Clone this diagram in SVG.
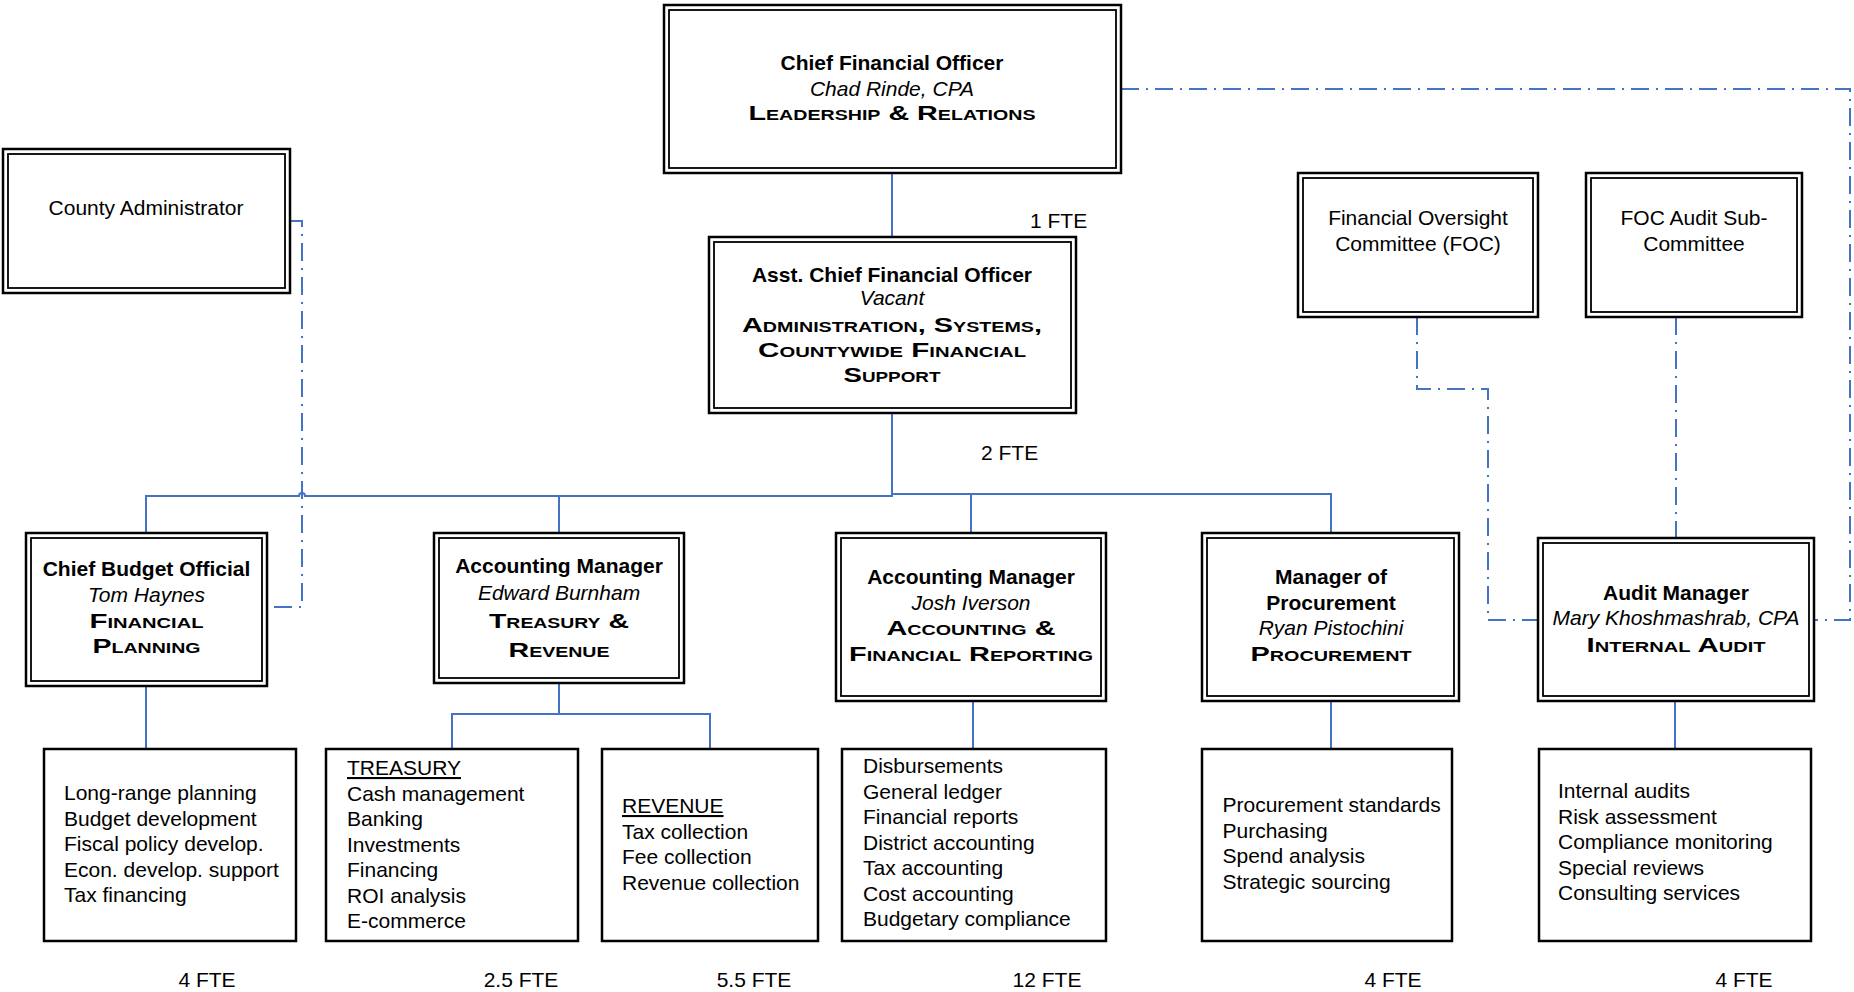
<svg xmlns="http://www.w3.org/2000/svg" width="1854" height="992" viewBox="0 0 1854 992">
<style>
.bx{fill:#fff;stroke:#000;stroke-width:2.5}
.in{fill:none;stroke:#000;stroke-width:1.8}
.t{font-family:"Liberation Sans",Arial,sans-serif;font-size:21px;fill:#000}
.c{text-anchor:middle}
.b{font-weight:bold}
.i{font-style:italic}
.sc{font-weight:bold;font-variant:small-caps;font-size:20.5px}
.u{text-decoration:underline}
.cn{fill:none;stroke:#4472C4;stroke-width:2}
.dd{fill:none;stroke:#4472C4;stroke-width:2;stroke-dasharray:18 7 2 7}
</style>
<rect width="1854" height="992" fill="#fff"/>
<g id="connectors">
<path class="cn" d="M892,173 V237"/>
<path class="cn" d="M892,413 V496 H305 A3,3 0 0 0 299,496 H146 V533"/>
<path class="cn" d="M892,494 H1331 V533"/>
<path class="cn" d="M559,496 V533"/>
<path class="cn" d="M971,494 V533"/>
<path class="cn" d="M146,686 V749"/>
<path class="cn" d="M559,683 V714 M452,749 V714 H710 V749"/>
<path class="cn" d="M973,701 V749"/>
<path class="cn" d="M1331,701 V749"/>
<path class="cn" d="M1675,701 V749"/>
<path class="dd" d="M290,221 H302 V607 H267"/>
<path class="dd" d="M1121,89 H1850 V620 H1814"/>
<path class="dd" d="M1417,317 V389 H1488 V620 H1538"/>
<path class="dd" d="M1676,317 V538"/>
</g>
<g id="cfo">
<rect class="bx" x="664" y="5" width="457" height="168"/>
<rect class="in" x="669" y="10" width="447" height="158"/>
<text class="t c b" x="892" y="70">Chief Financial Officer</text>
<text class="t c i" x="892" y="96">Chad Rinde, CPA</text>
<text class="t c sc" x="892" y="120" textLength="287" lengthAdjust="spacingAndGlyphs">Leadership &amp; Relations</text>
</g>
<text id="fte1" class="t" x="1030" y="228">1 FTE</text>
<g id="asst">
<rect class="bx" x="709" y="237" width="367" height="176"/>
<rect class="in" x="714" y="242" width="357" height="166"/>
<text class="t c b" x="892" y="282">Asst. Chief Financial Officer</text>
<text class="t c i" x="892" y="305">Vacant</text>
<text class="t c sc" x="892" y="332" textLength="300" lengthAdjust="spacingAndGlyphs">Administration, Systems,</text>
<text class="t c sc" x="892" y="357" textLength="268" lengthAdjust="spacingAndGlyphs">Countywide Financial</text>
<text class="t c sc" x="892" y="382" textLength="97" lengthAdjust="spacingAndGlyphs">Support</text>
</g>
<text id="fte2" class="t" x="981" y="460">2 FTE</text>
<g id="county">
<rect class="bx" x="3" y="149" width="287" height="144"/>
<rect class="in" x="8" y="154" width="277" height="134"/>
<text class="t c" x="146" y="215">County Administrator</text>
</g>
<g id="foc">
<rect class="bx" x="1298" y="173" width="240" height="144"/>
<rect class="in" x="1303" y="178" width="230" height="134"/>
<text class="t c" x="1418" y="225">Financial Oversight</text>
<text class="t c" x="1418" y="251">Committee (FOC)</text>
</g>
<g id="focsub">
<rect class="bx" x="1586" y="173" width="216" height="144"/>
<rect class="in" x="1591" y="178" width="206" height="134"/>
<text class="t c" x="1694" y="225">FOC Audit Sub-</text>
<text class="t c" x="1694" y="251">Committee</text>
</g>
<g id="budget">
<rect class="bx" x="26" y="533" width="241" height="153"/>
<rect class="in" x="31" y="538" width="231" height="143"/>
<text class="t c b" x="146.5" y="576">Chief Budget Official</text>
<text class="t c i" x="146.5" y="602">Tom Haynes</text>
<text class="t c sc" x="146.5" y="628" textLength="114" lengthAdjust="spacingAndGlyphs">Financial</text>
<text class="t c sc" x="146.5" y="653" textLength="108" lengthAdjust="spacingAndGlyphs">Planning</text>
</g>
<g id="treasury">
<rect class="bx" x="434" y="533" width="250" height="150"/>
<rect class="in" x="439" y="538" width="240" height="140"/>
<text class="t c b" x="559" y="573">Accounting Manager</text>
<text class="t c i" x="559" y="600">Edward Burnham</text>
<text class="t c sc" x="559" y="628" textLength="140" lengthAdjust="spacingAndGlyphs">Treasury &amp;</text>
<text class="t c sc" x="559" y="657" textLength="101" lengthAdjust="spacingAndGlyphs">Revenue</text>
</g>
<g id="finrep">
<rect class="bx" x="836" y="533" width="270" height="168"/>
<rect class="in" x="841" y="538" width="260" height="158"/>
<text class="t c b" x="971" y="584">Accounting Manager</text>
<text class="t c i" x="971" y="610">Josh Iverson</text>
<text class="t c sc" x="971" y="635" textLength="169" lengthAdjust="spacingAndGlyphs">Accounting &amp;</text>
<text class="t c sc" x="971" y="661" textLength="244" lengthAdjust="spacingAndGlyphs">Financial Reporting</text>
</g>
<g id="procurement">
<rect class="bx" x="1202" y="533" width="257" height="168"/>
<rect class="in" x="1207" y="538" width="247" height="158"/>
<text class="t c b" x="1331" y="584">Manager of</text>
<text class="t c b" x="1331" y="610">Procurement</text>
<text class="t c i" x="1331" y="635">Ryan Pistochini</text>
<text class="t c sc" x="1331" y="661" textLength="161" lengthAdjust="spacingAndGlyphs">Procurement</text>
</g>
<g id="audit">
<rect class="bx" x="1538" y="538" width="276" height="163"/>
<rect class="in" x="1543" y="543" width="266" height="153"/>
<text class="t c b" x="1676" y="600">Audit Manager</text>
<text class="t c i" x="1676" y="625">Mary Khoshmashrab, CPA</text>
<text class="t c sc" x="1676" y="652" textLength="179" lengthAdjust="spacingAndGlyphs">Internal Audit</text>
</g>
<g id="list-budget">
<rect class="bx" x="44" y="749" width="252" height="192"/>
<text class="t" x="64" y="800">Long-range planning</text>
<text class="t" x="64" y="825.6">Budget development</text>
<text class="t" x="64" y="851.2">Fiscal policy develop.</text>
<text class="t" x="64" y="876.8">Econ. develop. support</text>
<text class="t" x="64" y="902.4">Tax financing</text>
</g>
<g id="list-treasury">
<rect class="bx" x="326" y="749" width="252" height="192"/>
<text class="t u" x="347" y="775">TREASURY</text>
<text class="t" x="347" y="800.5">Cash management</text>
<text class="t" x="347" y="826">Banking</text>
<text class="t" x="347" y="851.5">Investments</text>
<text class="t" x="347" y="877">Financing</text>
<text class="t" x="347" y="902.5">ROI analysis</text>
<text class="t" x="347" y="928">E-commerce</text>
</g>
<g id="list-revenue">
<rect class="bx" x="602" y="749" width="216" height="192"/>
<text class="t u" x="622" y="813">REVENUE</text>
<text class="t" x="622" y="838.5">Tax collection</text>
<text class="t" x="622" y="864">Fee collection</text>
<text class="t" x="622" y="889.5">Revenue collection</text>
</g>
<g id="list-finrep">
<rect class="bx" x="842" y="749" width="264" height="192"/>
<text class="t" x="863" y="773">Disbursements</text>
<text class="t" x="863" y="798.5">General ledger</text>
<text class="t" x="863" y="824">Financial reports</text>
<text class="t" x="863" y="849.5">District accounting</text>
<text class="t" x="863" y="875">Tax accounting</text>
<text class="t" x="863" y="900.5">Cost accounting</text>
<text class="t" x="863" y="926">Budgetary compliance</text>
</g>
<g id="list-procurement">
<rect class="bx" x="1202" y="749" width="250" height="192"/>
<text class="t" x="1222.5" y="812">Procurement standards</text>
<text class="t" x="1222.5" y="837.5">Purchasing</text>
<text class="t" x="1222.5" y="863">Spend analysis</text>
<text class="t" x="1222.5" y="888.5">Strategic sourcing</text>
</g>
<g id="list-audit">
<rect class="bx" x="1539" y="749" width="272" height="192"/>
<text class="t" x="1558" y="798">Internal audits</text>
<text class="t" x="1558" y="823.5">Risk assessment</text>
<text class="t" x="1558" y="849">Compliance monitoring</text>
<text class="t" x="1558" y="874.5">Special reviews</text>
<text class="t" x="1558" y="900">Consulting services</text>
</g>
<g id="fte-labels">
<text class="t c" x="207" y="987">4 FTE</text>
<text class="t c" x="521" y="987">2.5 FTE</text>
<text class="t c" x="754" y="987">5.5 FTE</text>
<text class="t c" x="1047" y="987">12 FTE</text>
<text class="t c" x="1393" y="987">4 FTE</text>
<text class="t c" x="1744" y="987">4 FTE</text>
</g>
</svg>
